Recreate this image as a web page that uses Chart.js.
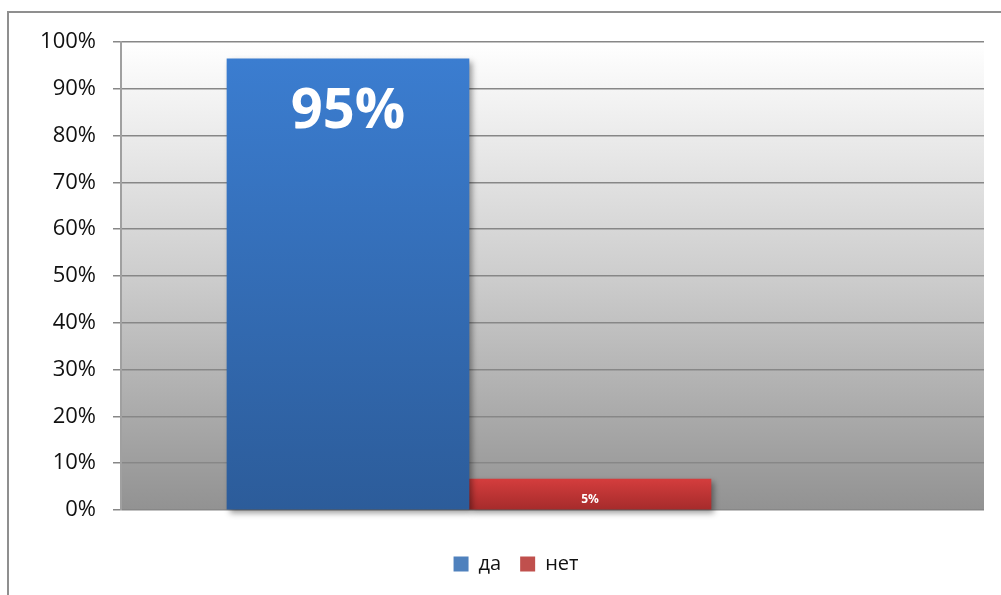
<!DOCTYPE html>
<html>
<head>
<meta charset="utf-8">
<script src="https://cdn.jsdelivr.net/npm/chart.js@4.4.1/dist/chart.umd.min.js"></script>
<style>
  html, body { margin: 0; padding: 0; background: #fff; overflow: hidden; }
  #frame { position: absolute; left: 7px; top: 11px; width: 1200px; height: 800px; border: 2px solid #8f8f8f; }
  #wrap { position: absolute; left: 0; top: 0; width: 1001px; height: 595px; }
</style>
</head>
<body>
<div id="frame"></div>
<div id="wrap"><canvas id="chart" width="1001" height="595"></canvas></div>
<script>
// data
const seriesNames = ['да', 'нет'];
const seriesValues = [96.4, 6.6];
const valueLabels = ['95%', '5%'];
const yTickValues = [0, 10, 20, 30, 40, 50, 60, 70, 80, 90, 100];
const categoryIndex = 0; // the single category

// styles
const legendColors = ['#4f81bd', '#c0504d'];
const barTop = ['#3b7dd0', '#d43d3d'];
const barBottom = ['#2c5c9a', '#a52b2b'];
const labelFonts = [{ size: 56, offset: 53 }, { size: 12, offset: 20 }];

function barFill(i) {
  return (ctx) => {
    const chart = ctx.chart;
    if (!chart.chartArea || !ctx.parsed) return barTop[i];
    const y = chart.scales.y;
    const top = y.getPixelForValue(ctx.parsed.y);
    const bottom = y.getPixelForValue(0);
    const g = chart.ctx.createLinearGradient(0, top, 0, bottom);
    g.addColorStop(0, barTop[i]);
    g.addColorStop(1, barBottom[i]);
    return g;
  };
}

const plotBackground = {
  id: 'plotBackground',
  beforeDraw(chart) {
    const { ctx, chartArea: a } = chart;
    const g = ctx.createLinearGradient(0, a.top, 0, a.bottom);
    g.addColorStop(0, '#ffffff');
    g.addColorStop(0.5, '#cdcdcd');
    g.addColorStop(1, '#929292');
    ctx.save();
    ctx.fillStyle = g;
    ctx.fillRect(a.left, a.top, a.right - a.left, a.bottom - a.top);
    ctx.restore();
  }
};

// nudge the legend to where the original sits (it is not centred on the page)
const legendShift = {
  id: 'legendShift',
  afterLayout(chart) {
    chart.legend.left += 24;
    chart.legend.right += 24;
  }
};

const barShadow = {
  id: 'barShadow',
  beforeDatasetsDraw(chart) {
    const ctx = chart.ctx;
    ctx.save();
    ctx.shadowColor = 'rgba(0,0,0,0.4)';
    ctx.shadowBlur = 6;
    ctx.shadowOffsetX = 3;
    ctx.shadowOffsetY = 3;
  },
  afterDatasetsDraw(chart) {
    chart.ctx.restore();
  }
};

const barLabels = {
  id: 'barLabels',
  afterDatasetsDraw(chart) {
    const ctx = chart.ctx;
    ctx.save();
    ctx.fillStyle = '#ffffff';
    ctx.textAlign = 'center';
    ctx.textBaseline = 'middle';
    chart.data.datasets.forEach((ds, i) => {
      const bar = chart.getDatasetMeta(i).data[0];
      if (!bar) return;
      ctx.font = 'bold ' + labelFonts[i].size + 'px "Open Sans"';
      ctx.fillText(valueLabels[i], bar.x, bar.y + labelFonts[i].offset);
    });
    ctx.restore();
  }
};

new Chart(document.getElementById('chart'), {
  type: 'bar',
  data: {
    datasets: seriesNames.map((name, i) => ({
      label: name,
      data: [{ x: categoryIndex, y: seriesValues[i] }],
      backgroundColor: barFill(i),
      borderWidth: 0,
      barThickness: 242,
      clip: false
    }))
  },
  options: {
    responsive: false,
    animation: false,
    layout: { padding: { top: 42, right: 17, bottom: 11, left: 0 } },
    plugins: {
      tooltip: { enabled: false },
      legend: {
        position: 'bottom',
        labels: {
          boxWidth: 15,
          boxHeight: 15,
          padding: 19,
          color: '#111',
          font: { family: 'Open Sans', size: 20 },
          generateLabels(chart) {
            const items = Chart.defaults.plugins.legend.labels.generateLabels(chart);
            return items.map((it, i) => ({ ...it, fillStyle: legendColors[i], strokeStyle: legendColors[i], lineWidth: 0 }));
          }
        }
      }
    },
    scales: {
      x: {
        type: 'linear',
        min: -0.5,
        max: 0.74,
        offset: false,
        ticks: { display: false },
        grid: { display: false },
        border: { display: false },
        afterFit(s) { s.height = 25; }
      },
      y: {
        min: 0,
        max: 100,
        afterBuildTicks(s) { s.ticks = yTickValues.map(v => ({ value: v })); },
        ticks: {
          callback: v => v + '%',
          color: '#111',
          padding: 17,
          font: { family: 'Open Sans', size: 22 }
        },
        grid: { color: '#878787', lineWidth: 1.5, tickLength: 8 },
        border: { display: true, color: '#a0a0a0', width: 2 },
        afterFit(s) { s.width = 121; }
      }
    }
  },
  plugins: [plotBackground, legendShift, barShadow, barLabels]
});
</script>
</body>
</html>
